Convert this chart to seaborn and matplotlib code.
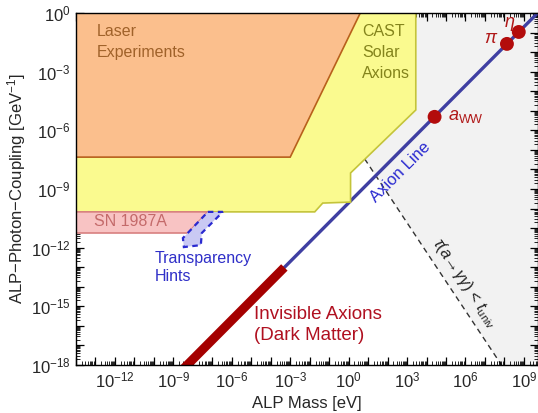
import numpy as np
import matplotlib
matplotlib.use("Agg")
import matplotlib.pyplot as plt
from matplotlib.ticker import FixedLocator, LogLocator, NullFormatter
import seaborn as sns
import pandas as pd

# ---- region boundaries (mass in eV, coupling in GeV^-1) ----
laser_mass = [1e-14, 10**0.6, 10**-3.0, 1e-14]
laser_coupling = [1e0, 1e0, 10**-7.37, 10**-7.37]

cast_mass = [1e-14, 10**3.45, 10**3.45, 10**0.10, 10**0.10, 10**-1.33, 10**-1.74, 1e-14]
cast_coupling = [1e0, 1e0, 10**-4.96, 10**-8.18, 10**-9.67, 10**-9.72, 10**-10.17, 10**-10.17]

sn_mass = [1e-14, 10**-7.23, 10**-8.26, 1e-14]
sn_coupling = [10**-10.17, 10**-10.17, 10**-11.25, 10**-11.25]

transp_mass = [10**-7.23, 10**-6.46, 10**-7.54, 10**-7.59, 10**-8.46, 10**-8.51, 10**-8.26]
transp_coupling = [10**-10.17, 10**-10.17, 10**-11.25, 10**-11.87, 10**-11.97, 10**-11.51, 10**-11.25]

# lifetime shorter than the age of the universe to the right of this line
tau_mass = [10**-4.15, 10**7.85, 10**9.7]
tau_coupling = [1e0, 1e-18, 1e-18]

# QCD axion band and its dark-matter segment
axion_mass = [1e-9, 10**9.71]
axion_coupling = [10**-18.71, 1e0]
dm_mass = [1e-9, 10**-3.3]
dm_coupling = [10**-18.71, 10**-13.01]

# particles on the axion line
particle_names = [r"$a_{\rm WW}$", r"$\pi$", r"$\eta$"]
particle_mass = [2.6e4, 1.35e8, 5.48e8]
particle_coupling = [10**-5.31, 10**-1.58, 10**-0.97]

x_limits = (1e-14, 10**9.7)
y_limits = (1e-18, 1e0)
x_decades = list(range(-14, 10))
y_decades = list(range(-18, 1))

sns.set_theme(style="ticks")
plt.rcParams["font.family"] = ["Liberation Sans", "DejaVu Sans"]
plt.rcParams["mathtext.fontset"] = "custom"
plt.rcParams["mathtext.rm"] = "Liberation Sans"
plt.rcParams["mathtext.it"] = "Liberation Sans:italic"
plt.rcParams["mathtext.bf"] = "Liberation Sans:bold"

W, H = 538, 413
fig = plt.figure(figsize=(W / 100, H / 100), dpi=100)
ax = fig.add_axes([76 / W, 48 / H, 461.5 / W, 352 / H])
ax.set_xscale("log")
ax.set_yscale("log")
ax.set_xlim(*x_limits)
ax.set_ylim(*y_limits)

# grey region: decays within the age of the universe
ax.fill_between(tau_mass, tau_coupling, [1e0] * 3, color="#f2f2f2", lw=0, zorder=1)
tau_df = pd.DataFrame({"m": tau_mass[:2], "g": tau_coupling[:2]})
sns.lineplot(data=tau_df, x="m", y="g", ax=ax, color="#333333", lw=1.0,
             linestyle=(0, (4, 3)), zorder=2, sort=False)

# axion line and dark-matter band
ax_df = pd.DataFrame({"m": axion_mass, "g": axion_coupling})
sns.lineplot(data=ax_df, x="m", y="g", ax=ax, color="#3f3fa2", lw=2.4, zorder=3)
dm_df = pd.DataFrame({"m": dm_mass, "g": dm_coupling})
sns.lineplot(data=dm_df, x="m", y="g", ax=ax, color="#a50000", lw=6.5, zorder=3,
             solid_capstyle="butt")

# excluded regions
ax.fill(cast_mass, cast_coupling, facecolor="#fafa8f", edgecolor="#c4c43a", lw=1.2, zorder=4)
ax.fill(laser_mass, laser_coupling, facecolor="#fbbf8d", edgecolor="#b8601c", lw=1.2, zorder=5)
ax.fill(sn_mass, sn_coupling, facecolor="#f8c3c3", edgecolor="#d88080", lw=1.2, zorder=4)
ax.fill(transp_mass, transp_coupling, facecolor="#c9c9f3", edgecolor="#2a2ad0", lw=1.6,
        linestyle=(0, (2.5, 2)), zorder=4)

# particles
p_df = pd.DataFrame({"m": particle_mass, "g": particle_coupling})
sns.scatterplot(data=p_df, x="m", y="g", ax=ax, color="#b30c0c", s=100,
                edgecolor="none", zorder=6, legend=False)

red = "#b01818"
ax.text(10**5.08, particle_coupling[0], particle_names[0], color=red, fontsize=13,
        ha="left", va="center", zorder=7)
ax.text(10**7.33, 10**-1.28, particle_names[1], color=red, fontsize=13,
        ha="center", va="center", zorder=7)
ax.text(10**8.26, 10**-0.56, particle_names[2], color=red, fontsize=13,
        ha="center", va="center", zorder=7)

# region labels
ax.text(10**-12.95, 10**-0.55, "Laser\nExperiments", color="#a0622a", fontsize=11.5,
        ha="left", va="top", linespacing=1.55, zorder=7)
ax.text(10**0.70, 10**-0.55, "CAST\nSolar\nAxions", color="#84841c", fontsize=11.5,
        ha="left", va="top", linespacing=1.5, zorder=7)
ax.text(10**-13.05, 10**-10.66, "SN 1987A", color="#c46a6a", fontsize=11.5,
        ha="left", va="center", zorder=7)
ax.text(10**-9.98, 10**-12.15, "Transparency\nHints", color="#2f2fc8", fontsize=11.5,
        ha="left", va="top", linespacing=1.25, zorder=7)
ax.text(10**-4.85, 10**-15.0, "Invisible Axions\n(Dark Matter)", color="#b01020",
        fontsize=13.5, ha="left", va="top", linespacing=1.3, zorder=7)
ax.text(10**2.67, 10**-8.13, "Axion Line", color="#2a2ad0", fontsize=12, rotation=45,
        ha="center", va="center", rotation_mode="anchor", zorder=7)
ax.text(10**5.95, 10**-13.81, r"$\tau(a\!\rightarrow\!\gamma\gamma)\,<\,t_{\rm univ}$",
        color="#222222", fontsize=11.5, rotation=-56.4, ha="center", va="center",
        rotation_mode="anchor", zorder=7)

# axes and ticks: a tick at every decade, labels every third decade
def decade_labels(decades):
    return [r"$10^{%d}$" % e if e % 3 == 0 else "" for e in decades]

ax.set_xticks([10.0**e for e in x_decades], labels=decade_labels(x_decades))
ax.set_yticks([10.0**e for e in y_decades], labels=decade_labels(y_decades))
ax.set_xlim(*x_limits)
ax.set_ylim(*y_limits)
for axis in (ax.xaxis, ax.yaxis):
    axis.set_minor_locator(LogLocator(base=10, subs=np.arange(2, 10), numticks=60))
    axis.set_minor_formatter(NullFormatter())
    for tick in axis.get_major_ticks():
        if tick.label1.get_text() == "":
            tick.label1.set_visible(False)

ax.tick_params(which="both", direction="in", top=True, right=True, color="black")
ax.tick_params(which="major", length=5.5, width=0.9, labelsize=12, pad=4)
ax.tick_params(which="minor", length=3, width=0.6)
for sp in ax.spines.values():
    sp.set_color("black")
    sp.set_linewidth(1.0)
    sp.set_zorder(8)

ax.set_xlabel("ALP Mass [eV]", fontsize=12, labelpad=4)
ax.set_ylabel(r"ALP$-$Photon$-$Coupling [GeV$^{-1}$]", fontsize=12, labelpad=2)
ax.set_axisbelow(False)

fig.savefig("out.png", dpi=100)
